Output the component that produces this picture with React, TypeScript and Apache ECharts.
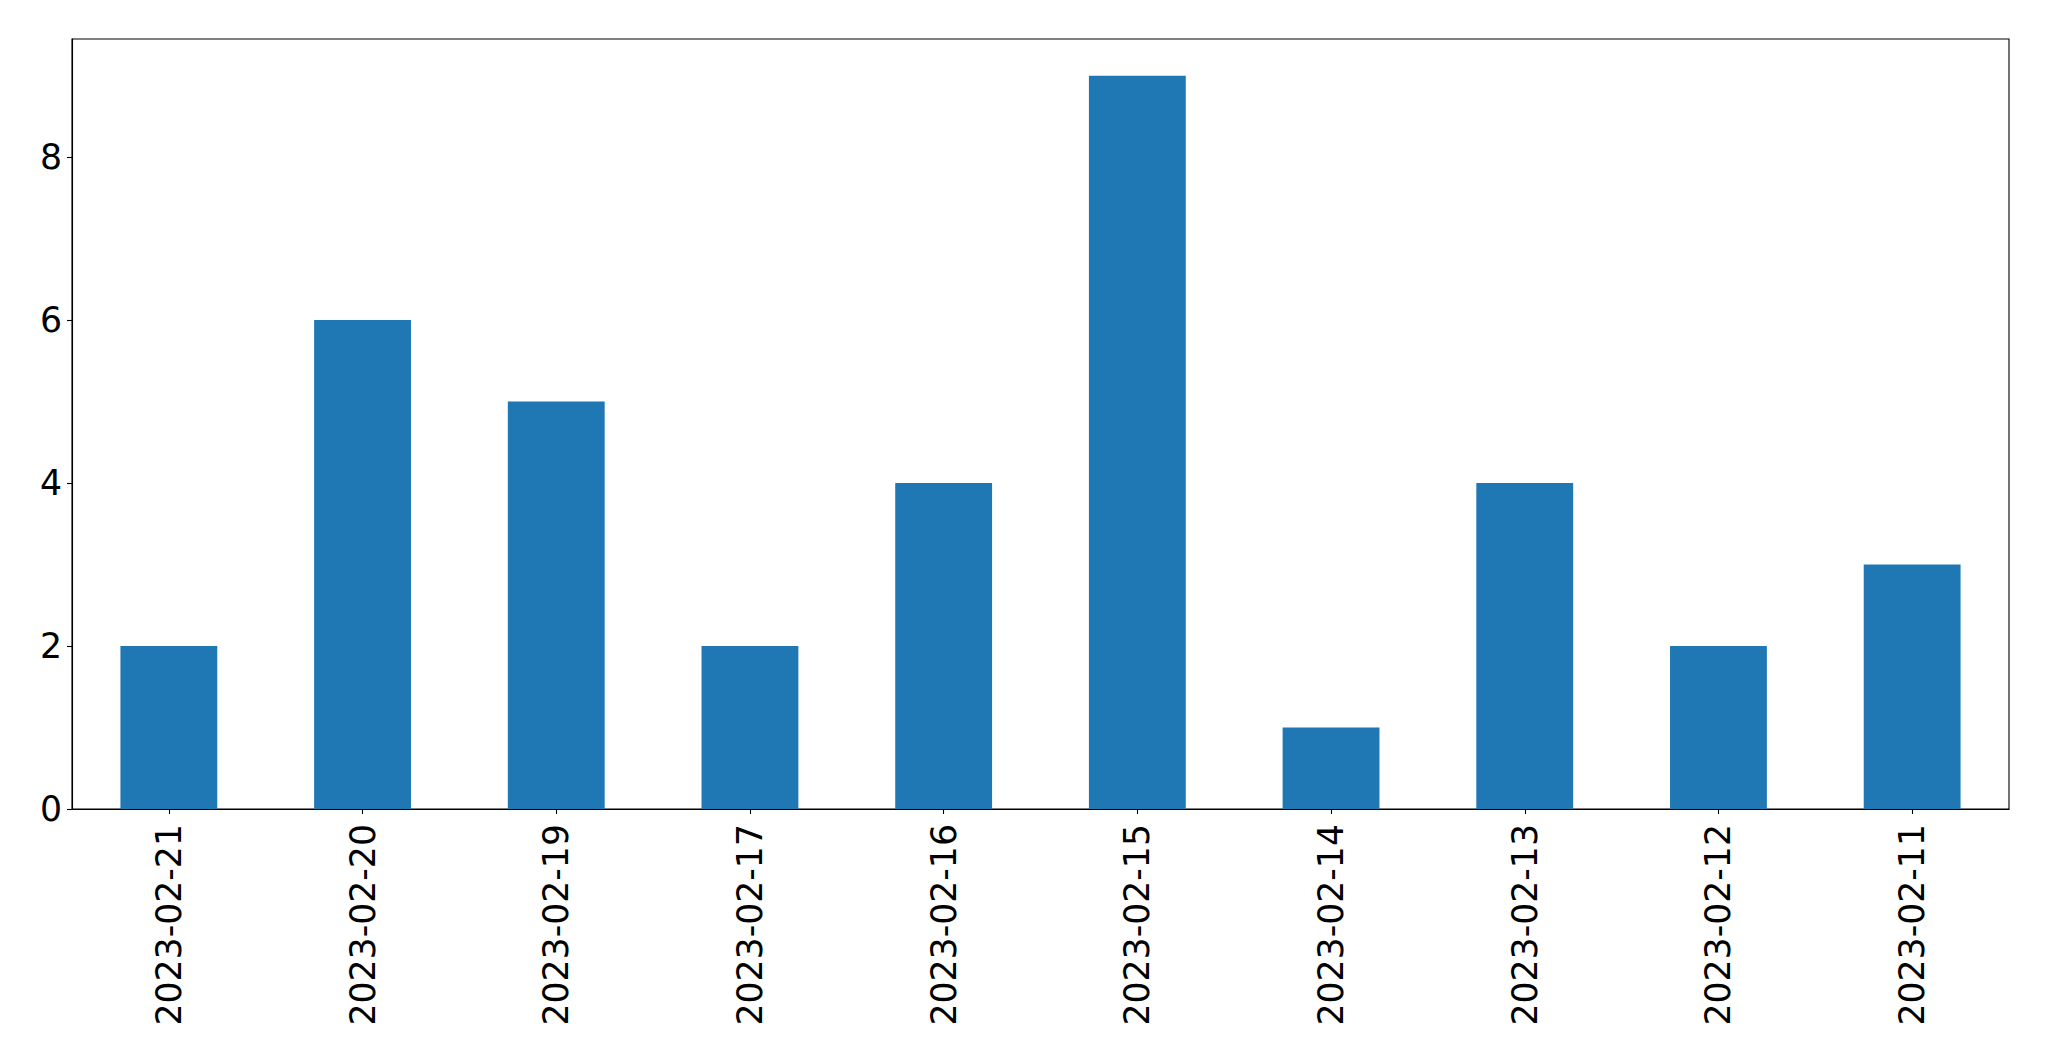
import React, { useEffect, useRef } from "react";
import * as echarts from "echarts";

const categories = [
  "2023-02-21", "2023-02-20", "2023-02-19", "2023-02-17", "2023-02-16",
  "2023-02-15", "2023-02-14", "2023-02-13", "2023-02-12", "2023-02-11",
];
const counts = [2, 6, 5, 2, 4, 9, 1, 4, 2, 3];
const yTicks = [0, 2, 4, 6, 8];
const yMax = 9.45;

export default function App() {
  const ref = useRef<HTMLDivElement>(null);
  useEffect(() => {
    if (!ref.current) return;
    const chart = echarts.init(ref.current, null, { renderer: "svg" });
    const font = "DejaVu Sans";
    chart.setOption({
      animation: false,
      backgroundColor: "#fff",
      grid: {
        left: 72, right: 40, top: 39, bottom: 252,
        show: true, borderColor: "#000", borderWidth: 1.1,
        containLabel: false,
      },
      xAxis: {
        type: "category",
        data: categories,
        boundaryGap: true,
        axisLine: { show: true, lineStyle: { color: "#000", width: 1.1 } },
        axisTick: { show: true, alignWithLabel: true, length: 5, lineStyle: { color: "#000", width: 1.1 } },
        axisLabel: {
          rotate: 90, margin: 15, fontSize: 34.7, fontFamily: font, color: "#000", interval: 0,
        },
        splitLine: { show: false },
      },
      yAxis: {
        type: "value",
        min: 0,
        max: yMax,
        interval: 2,
        axisLine: { show: true, lineStyle: { color: "#000", width: 1.1 } },
        axisTick: { show: true, length: 5, customValues: yTicks, lineStyle: { color: "#000", width: 1.1 } },
        axisLabel: {
          margin: 10, fontSize: 34.7, fontFamily: font, color: "#000", customValues: yTicks,
        },
        splitLine: { show: false },
      },
      series: [
        {
          type: "bar",
          data: counts,
          barWidth: "50%",
          itemStyle: { color: "#1f77b4" },
        },
      ],
    });
    return () => chart.dispose();
  }, []);
  return (
    <div
      ref={ref}
      style={{ position: "fixed", left: 0, top: 0, width: 2049, height: 1061 }}
    />
  );
}
